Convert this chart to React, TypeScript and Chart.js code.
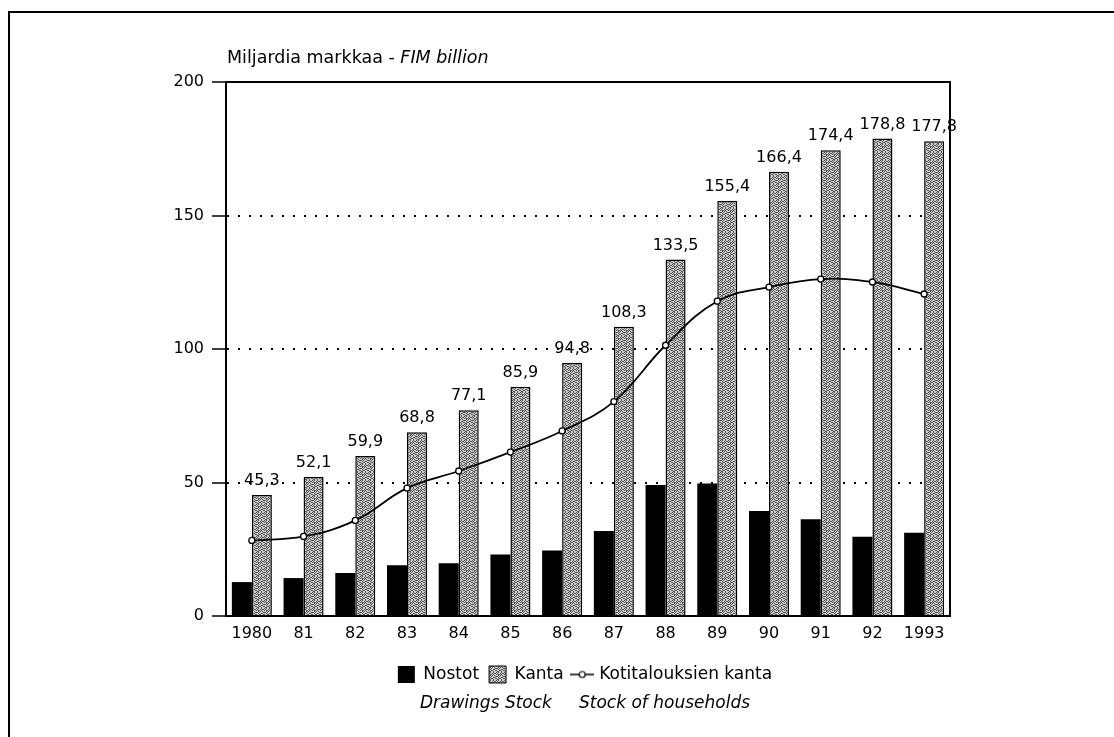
import React, { useEffect, useRef } from 'react';
import { Chart, registerables } from 'chart.js';

Chart.register(...registerables);

const years = ['1980', '81', '82', '83', '84', '85', '86', '87', '88', '89', '90', '91', '92', '1993'];
const nostot = [12.7, 14.2, 16.1, 19.0, 19.8, 23.0, 24.5, 31.8, 49.1, 49.6, 39.3, 36.2, 29.7, 31.2];
const kanta = [45.3, 52.1, 59.9, 68.8, 77.1, 85.9, 94.8, 108.3, 133.5, 155.4, 166.4, 174.4, 178.8, 177.8];
const kotitaloudet = [28.3, 29.8, 35.8, 47.9, 54.3, 61.4, 69.3, 80.3, 101.4, 117.9, 123.2, 126.2, 125.1, 120.6];
const yMin = 0;
const yMax = 200;
const yStep = 50;
const seriesNames = ['Nostot', 'Kanta', 'Kotitalouksien kanta'];
const unitLabel = 'Miljardia markkaa - ';
const unitLabelItalic = 'FIM billion';
const englishNames = 'Drawings Stock     Stock of households';

// halftone texture (style only)
const DITHER = [
  '10100100',
  '01001011',
  '10110100',
  '00101010',
  '11010001',
  '00100110',
  '10011001',
  '01100100',
];

const FONT = "'DejaVu Sans', sans-serif";
const fmt = (v: number) => v.toFixed(1).replace('.', ',');

export default function App() {
  const canvasRef = useRef<HTMLCanvasElement | null>(null);

  useEffect(() => {
    const canvas = canvasRef.current;
    if (!canvas) return;
    const ctx = canvas.getContext('2d')!;

    const pc = document.createElement('canvas');
    pc.width = 8;
    pc.height = 8;
    const pctx = pc.getContext('2d')!;
    pctx.fillStyle = '#cfcfcf';
    pctx.fillRect(0, 0, 8, 8);
    pctx.fillStyle = '#505050';
    DITHER.forEach((row, yy) => {
      for (let xx = 0; xx < row.length; xx++) if (row[xx] === '1') pctx.fillRect(xx, yy, 1, 1);
    });
    const pattern = ctx.createPattern(pc, 'repeat')!;

    const ic = document.createElement('canvas');
    ic.width = 24;
    ic.height = 10;
    const ictx = ic.getContext('2d')!;
    ictx.strokeStyle = '#000';
    ictx.lineWidth = 1.5;
    ictx.beginPath();
    ictx.moveTo(0, 5);
    ictx.lineTo(24, 5);
    ictx.stroke();
    ictx.beginPath();
    ictx.arc(12, 5, 3, 0, Math.PI * 2);
    ictx.fillStyle = '#fff';
    ictx.fill();
    ictx.lineWidth = 1.2;
    ictx.stroke();

    const unitTitlePlugin = {
      id: 'unitTitle',
      afterDraw(chart: any) {
        const c = chart.ctx;
        const { left, top } = chart.chartArea;
        c.save();
        c.fillStyle = '#000';
        c.textBaseline = 'alphabetic';
        c.textAlign = 'left';
        c.font = `17.5px ${FONT}`;
        c.fillText(unitLabel, left + 1, top - 19);
        const w = c.measureText(unitLabel).width;
        c.font = `italic 17.5px ${FONT}`;
        c.fillText(unitLabelItalic, left + 1 + w, top - 19);
        c.restore();
      },
    };

    const barLabelPlugin = {
      id: 'barLabels',
      afterDatasetsDraw(chart: any) {
        const c = chart.ctx;
        const meta = chart.getDatasetMeta(2);
        c.save();
        c.fillStyle = '#000';
        c.font = `16px ${FONT}`;
        c.textAlign = 'center';
        c.textBaseline = 'alphabetic';
        meta.data.forEach((el: any, i: number) => {
          c.fillText(fmt(kanta[i]), el.x, el.y - 10);
        });
        c.restore();
      },
    };

    const chart = new Chart(ctx, {
      type: 'bar',
      data: {
        labels: years,
        datasets: [
          {
            type: 'line',
            label: seriesNames[2],
            data: kotitaloudet,
            borderColor: '#000',
            borderWidth: 1.8,
            backgroundColor: '#fff',
            pointBackgroundColor: '#fff',
            pointBorderColor: '#000',
            pointBorderWidth: 1.3,
            pointRadius: 3,
            tension: 0.4,
            order: 0,
          } as any,
          {
            type: 'bar',
            label: seriesNames[0],
            data: nostot,
            backgroundColor: '#000',
            borderWidth: 0,
            barPercentage: 1,
            categoryPercentage: 0.774,
            order: 1,
          },
          {
            type: 'bar',
            label: seriesNames[1],
            data: kanta,
            backgroundColor: pattern as any,
            borderColor: '#000',
            borderWidth: 1.5,
            barPercentage: 1,
            categoryPercentage: 0.774,
            order: 1,
          },
        ],
      },
      options: {
        animation: false,
        responsive: true,
        maintainAspectRatio: false,
        layout: { padding: { left: 166, right: 110, top: 81, bottom: 23.6 } },
        scales: {
          x: {
            type: 'category',
            position: 'bottom',
            grid: { display: false, drawTicks: false },
            border: { display: true, color: '#000', width: 2 },
            ticks: { color: '#000', font: { family: FONT, size: 16 }, padding: 8, maxRotation: 0, autoSkip: false },
            afterFit(s: any) { s.height = 40; },
          },
          xTop: {
            type: 'category',
            position: 'top',
            grid: { display: false, drawTicks: false },
            border: { display: true, color: '#000', width: 2 },
            ticks: { display: false },
            afterFit(s: any) { s.height = 1; },
          },
          y: {
            type: 'linear',
            position: 'left',
            min: yMin,
            max: yMax,
            ticks: { stepSize: yStep, color: '#000', font: { family: FONT, size: 16 }, padding: 8 },
            grid: { color: '#000', lineWidth: 2, tickLength: 14, tickWidth: 1.5, tickColor: '#000', tickBorderDash: [] },
            border: { display: true, color: '#000', width: 2, dash: [2, 9] },
            afterFit(s: any) { s.width = 60; },
          },
          yRight: {
            type: 'linear',
            position: 'right',
            min: yMin,
            max: yMax,
            grid: { display: false, drawTicks: false },
            ticks: { display: false },
            border: { display: true, color: '#000', width: 2 },
            afterFit(s: any) { s.width = 54; },
          },
        },
        plugins: {
          tooltip: { enabled: false },
          title: { display: false },
          legend: {
            display: true,
            position: 'bottom',
            labels: {
              usePointStyle: true,
              color: '#000',
              font: { family: FONT, size: 17 },
              padding: 10,
              generateLabels: () => [
                { text: seriesNames[0], fillStyle: '#000', strokeStyle: '#000', lineWidth: 0, pointStyle: 'rect', hidden: false, datasetIndex: 1 },
                { text: seriesNames[1], fillStyle: pattern as any, strokeStyle: '#000', lineWidth: 1, pointStyle: 'rect', hidden: false, datasetIndex: 2 },
                { text: seriesNames[2], fillStyle: '#fff', strokeStyle: '#000', lineWidth: 0, pointStyle: ic as any, hidden: false, datasetIndex: 0 },
              ],
            },
          },
          subtitle: {
            display: true,
            position: 'bottom',
            text: englishNames,
            color: '#000',
            font: { family: FONT, size: 17, style: 'italic', weight: 'normal' },
            padding: { top: 0, bottom: 0 },
          },
        },
      },
      plugins: [unitTitlePlugin, barLabelPlugin],
    });

    return () => chart.destroy();
  }, []);

  return (
    <div style={{ position: 'absolute', left: 0, top: 0, width: 1114, height: 737, background: '#fff' }}>
      <div style={{ position: 'absolute', left: 8, top: 11, width: 1106, height: 2, background: '#000' }} />
      <div style={{ position: 'absolute', left: 8, top: 11, width: 2, height: 726, background: '#000' }} />
      <div style={{ position: 'absolute', left: 0, top: 0, width: 1114, height: 737 }}>
        <canvas ref={canvasRef} />
      </div>
    </div>
  );
}
